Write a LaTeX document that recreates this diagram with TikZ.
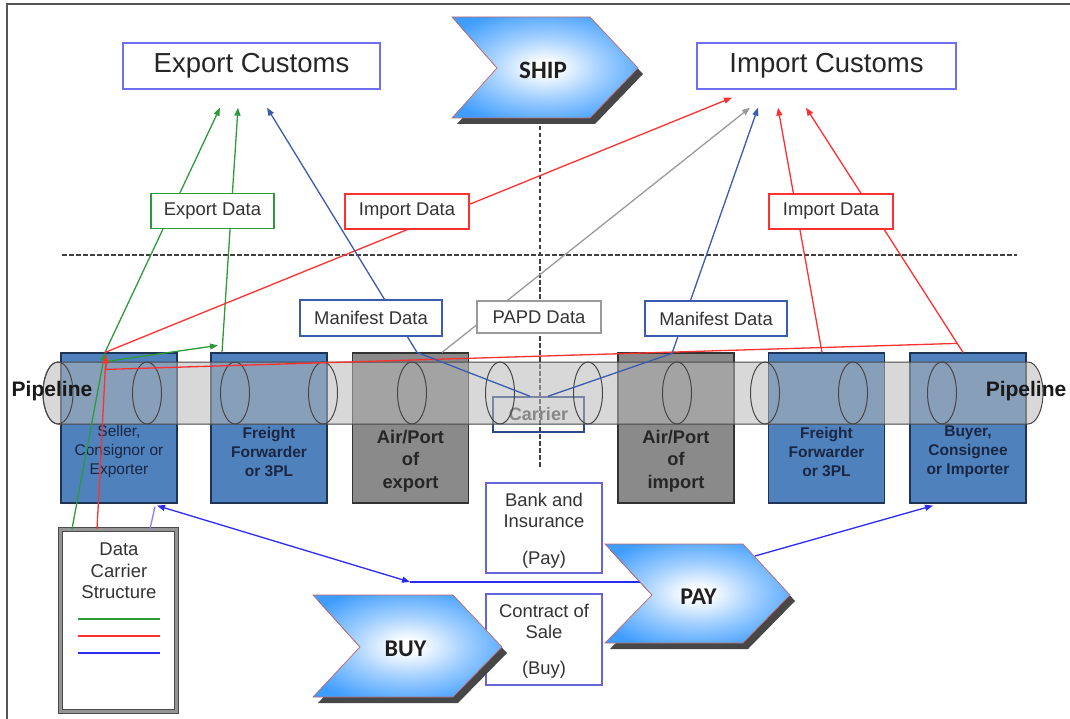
\documentclass[tikz,border=0pt]{standalone}
\usepackage{fontspec}
\setmainfont{Liberation Sans}
\newfontfamily\chevfont{Carlito}
\usetikzlibrary{arrows.meta,calc}

\definecolor{custborder}{HTML}{6F6FF5}
\definecolor{exgreen}{HTML}{2E9B3A}
\definecolor{imred}{HTML}{FF3030}
\definecolor{manblue}{HTML}{3A5BAE}
\definecolor{papdgray}{HTML}{9A9A9A}
\definecolor{paybl}{HTML}{2B2BF5}
\definecolor{actorblue}{HTML}{4F81BD}
\definecolor{actorline}{HTML}{1F3355}
\definecolor{portgray}{HTML}{8A8A8A}
\definecolor{navytext}{HTML}{1A2642}
\definecolor{chevblue}{HTML}{3F9DFF}
\definecolor{chevmid}{HTML}{A4D0FF}
\definecolor{chevedge}{HTML}{C06A6A}
\definecolor{tubefill}{HTML}{B8B8B8}
\definecolor{framegray}{HTML}{555555}
\definecolor{txtgray}{HTML}{333333}

\pgfdeclareradialshading{chevshade}{\pgfpoint{0bp}{0bp}}{color(0bp)=(white); color(3bp)=(white); color(15bp)=(chevmid); color(30bp)=(chevblue); color(50bp)=(chevblue)}

\tikzset{
  custbox/.style={draw=custborder, line width=1.3pt, fill=white, minimum width=257pt,
    minimum height=46pt, inner sep=0pt, font=\fontsize{27.5}{30}\selectfont, text=black!85},
  tag/.style={fill=white, line width=1.3pt, inner sep=0pt, minimum height=35pt,
    font=\fontsize{18.4}{21}\selectfont, text=txtgray},
  actorbox/.style={draw=actorline, line width=1.2pt, fill=actorblue, minimum width=116pt,
    minimum height=150pt, inner sep=0pt},
  portbox/.style={actorbox, fill=portgray, draw=black!80},
  actortxt/.style={align=center, inner sep=0pt, text=navytext,
    font=\bfseries\fontsize{15.5}{19}\selectfont},
  porttxt/.style={align=center, inner sep=0pt, text=black!85,
    font=\bfseries\fontsize{18.3}{22.5}\selectfont},
  pipetxt/.style={inner sep=0pt, text=black!90, font=\bfseries\fontsize{21}{24}\selectfont},
  ring/.style={draw=black!72, line width=1pt},
  chev/.style={preaction={fill=black!72, transform canvas={shift={(5,6)}}},
    shading=chevshade, shade, draw=chevedge, line width=0.7pt},
  chevtxt/.style={inner sep=0pt, text=black!88, font=\chevfont\bfseries\fontsize{25}{28}\selectfont},
  infobox/.style={draw=custborder!90!black, line width=1.3pt, fill=white, minimum width=116pt,
    inner sep=0pt},
  infotxt/.style={align=center, inner sep=0pt, text=txtgray, font=\fontsize{18.4}{21}\selectfont},
  dashline/.style={draw=black!75, line width=1.2pt, dash pattern=on 4.5pt off 2.5pt},
  gline/.style={draw=exgreen, line width=1.3pt},
  rline/.style={draw=imred, line width=1.3pt},
  mline/.style={draw=manblue, line width=1.3pt},
  pline/.style={draw=papdgray, line width=1.3pt},
  bline/.style={draw=paybl, line width=1.3pt},
  bline2/.style={draw=paybl!60, line width=1.3pt},
}

\begin{document}
\begin{tikzpicture}[x=1pt, y=-1pt, >={Triangle[length=8pt,width=6pt]}]
\useasboundingbox (0,0) rectangle (1070,719);

% page frame
\draw[framegray, line width=1.5pt] (7,719) -- (7,4) -- (1070,4);

% border lines between customs and trade parties
\draw[dashline] (62,255) -- (1017,255);
\draw[dashline] (540,112) -- (540,468);

% trade parties
\node[actorbox] (seller) at (119,428) {};
\node[actorbox] (ffl) at (269,428) {};
\node[portbox] (airex) at (410.5,428) {};
\node[portbox] (airim) at (676,428) {};
\node[actorbox] (ffr) at (826.5,428) {};
\node[actorbox] (buyer) at (968,428) {};

% carrier sits inside the pipeline
\node[draw=manblue!80!black, line width=1.5pt, minimum width=91pt, minimum height=35pt, inner sep=0pt,
  text=black!70, font=\bfseries\fontsize{18}{20}\selectfont] (carrier) at (538.5,414.5) {Carrier};

% pipeline tube
\path[fill=tubefill, fill opacity=0.55, draw=black!72, line width=1pt]
  (58,362) -- (1028,362) arc[start angle=90, end angle=-90, x radius=15pt, y radius=31pt]
  -- (58,424) arc[start angle=270, end angle=90, x radius=15pt, y radius=31pt] -- cycle;
\draw[ring] (58,393) ellipse [x radius=15pt, y radius=31pt];
\foreach \cx in {147,235,323,412,500,588,677,765,853,942}
  \draw[ring] (\cx,393) ellipse [x radius=14.5pt, y radius=31pt];

\node[pipetxt] (pipeL) at (52,391) {Pipeline};
\node[pipetxt] (pipeR) at (1026,391) {Pipeline};

% party labels
\node[actortxt, font=\fontsize{15.5}{19}\selectfont] (sellerT) at (119,451.5) {Seller,\\Consignor or\\Exporter};
\node[actortxt] (fflT) at (269,451.5) {Freight\\Forwarder\\or 3PL};
\node[porttxt] (airexT) at (410.5,461) {Air/Port\\of\\export};
\node[porttxt] (airimT) at (676,461) {Air/Port\\of\\import};
\node[actortxt] (ffrT) at (826.5,451.5) {Freight\\Forwarder\\or 3PL};
\node[actortxt] (buyerT) at (968,451.5) {Buyer,\\Consignee\\or Importer};

% customs authorities
\node[custbox] (expcust) at (251.5,66) {Export Customs};
\node[custbox, minimum width=259pt] (impcust) at (826.5,66) {Import Customs};

% data carrier structure box
\node[draw=black!70, double=black!42, line width=1.1pt, double distance=2.6pt, fill=white,
  minimum width=116pt, minimum height=182pt, inner sep=0pt] (dcs) at (118.5,620.5) {};
\node[infotxt, font=\fontsize{18.5}{21.5}\selectfont] (dcsT) at (119,571) {Data\\Carrier\\Structure};
\draw[exgreen, line width=1.3pt] (78,619) -- (160,619);
\draw[imred, line width=1.3pt] (78,636) -- (160,636);
\draw[paybl, line width=1.3pt] (78,653) -- (160,653);

% payment flow turning points
\coordinate (mid) at (410,582);
\coordinate (payL) at (640,582);
\coordinate (payR) at (755,556);

% export data flows
\draw[gline,->] ($(dcs.north)+(-46.5,0)$) -- ($(seller.north)+(-14,0)$);
\draw[gline,->] ($(seller.north)+(-14,0)$) -- ($(expcust.south)+(-31.5,18)$);
\draw[gline,->] ($(seller.north)+(-12,9)$) -- ($(ffl.north)+(-51,-7)$);
\draw[gline,->] ($(ffl.north)+(-47,0)$) -- ($(expcust.south)+(-13.5,18)$);

% import data flows
\draw[rline,->] ($(dcs.north)+(-21.5,0)$) -- ($(seller.north)+(-13,3)$);
\draw[rline,->] ($(seller.north)+(-14,0)$) -- ($(impcust.south)+(-94.5,8)$);
\draw[rline] ($(seller.north)+(-13,3)$) -- ($(seller.north)+(-13,17)$) -- ($(buyer.north)+(-11,-9)$);
\draw[rline,->] ($(buyer.north)+(-5,0)$) -- ($(impcust.south)+(-20.5,18)$);
\draw[rline,->] ($(ffr.north)+(-4.5,0)$) -- ($(impcust.south)+(-48.5,18)$);

% manifest and PAPD flows
\draw[mline,->] ($(carrier.north)+(-8.5,0)$) -- ($(airex.north)+(6.5,0)$) -- ($(expcust.south)+(15.5,18)$);
\draw[mline,->] ($(carrier.north)+(9.5,0)$) -- ($(airim.north)+(-4,1)$) -- ($(impcust.south)+(-68.5,18)$);
\draw[pline,->] ($(airex.north)+(31.5,0)$) -- ($(impcust.south)+(-76.5,18)$);

% payment flows
\draw[bline2] ($(dcs.north)+(31.5,0)$) -- ($(seller.south)+(36,3)$);
\draw[bline,<->] ($(seller.south)+(38,2)$) -- (mid);
\draw[bline] (mid) -- (payL);
\draw[bline,->] (payR) -- ($(buyer.south)+(-35,2)$);

% data labels
\node[tag, draw=exgreen, minimum width=123pt] (expdata) at (212.5,211) {Export Data};
\node[tag, draw=imred, minimum width=124pt] (impdataL) at (407,211.5) {Import Data};
\node[tag, draw=manblue, minimum width=142pt, minimum height=36pt] (manL) at (371,318) {Manifest Data};
\node[tag, draw=papdgray, minimum width=124pt, minimum height=32pt] (papd) at (539,317) {PAPD Data};
\node[tag, draw=manblue, minimum width=142pt] (manR) at (716,318.5) {Manifest Data};
\node[tag, draw=imred, minimum width=124pt] (impdataR) at (831,211.5) {Import Data};

% bank and contract boxes
\node[infobox, minimum height=90pt] (bank) at (544,528) {};
\node[infotxt] (bankT) at (544,531) {Bank and\\Insurance\\[16pt](Pay)};
\node[infobox, minimum height=91pt] (contract) at (544,639.5) {};
\node[infotxt] (contractT) at (544,641) {Contract of\\Sale\\[15pt](Buy)};

% process chevrons
\path[chev] (452,17) -- (590,17) -- (638,68) -- (590,118) -- (452,118) -- (497,68) -- cycle;
\node[chevtxt] (ship) at (543,70) {SHIP};
\path[chev] (313,595) -- (453,595) -- (502,647) -- (453,697) -- (313,697) -- (360,647) -- cycle;
\node[chevtxt, font=\chevfont\bfseries\fontsize{24}{26}\selectfont] (buy) at (405.5,649) {BUY};
\path[chev] (605,544) -- (743,544) -- (790,595) -- (743,643) -- (605,643) -- (652,595) -- cycle;
\node[chevtxt, font=\chevfont\bfseries\fontsize{24}{26}\selectfont] (pay) at (698.5,597) {PAY};
\end{tikzpicture}
\end{document}
